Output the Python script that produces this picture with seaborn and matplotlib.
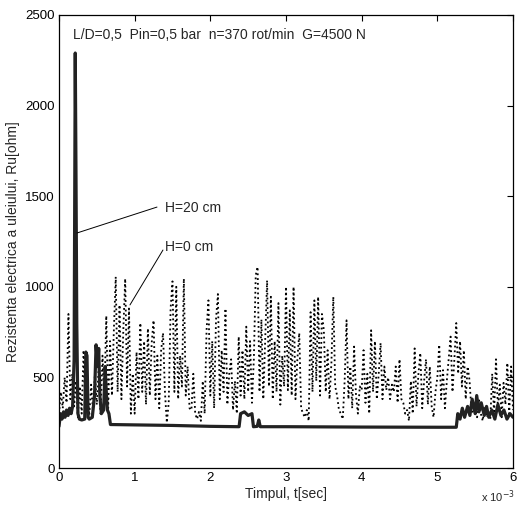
import numpy as np
import pandas as pd
import matplotlib
matplotlib.use("Agg")
import matplotlib.pyplot as plt
import seaborn as sns

# H=0 cm (dotted), sampled every 0.025 ms
t_h0 = np.arange(0, 241) * 0.025
r_h0 = [
    300, 420, 330, 500, 360, 850, 380, 520, 340, 480,
    280, 450, 300, 650, 320, 420, 290, 460, 310, 520,
    350, 560, 300, 620, 380, 840, 330, 700, 400, 760,
    1055, 420, 900, 380, 760, 1045, 450, 880, 300, 520,
    300, 640, 380, 800, 420, 700, 350, 770, 400, 690,
    815, 380, 620, 330, 650, 745, 420, 250, 360, 880,
    1030, 420, 1000, 380, 620, 450, 1045, 400, 560, 330,
    320, 520, 300, 270, 310, 260, 480, 300, 760, 925,
    400, 700, 330, 820, 960, 380, 650, 420, 880, 350,
    520, 600, 320, 480, 300, 725, 400, 650, 380, 780,
    420, 700, 360, 600, 1065, 1110, 420, 820, 380, 700,
    1035, 450, 945, 380, 700, 420, 910, 350, 620, 450,
    1000, 430, 870, 400, 1000, 380, 600, 745, 330, 300,
    280, 320, 260, 860, 420, 925, 480, 945, 400, 850,
    760, 420, 650, 380, 580, 945, 450, 400, 320, 300,
    270, 480, 815, 380, 560, 330, 670, 400, 300, 450,
    430, 650, 360, 520, 300, 760, 420, 700, 380, 520,
    690, 380, 560, 430, 500, 380, 460, 420, 560, 360,
    600, 380, 360, 300, 320, 260, 480, 300, 660, 340,
    520, 635, 330, 480, 600, 350, 560, 340, 280, 420,
    500, 680, 380, 540, 330, 480, 600, 725, 420, 600,
    800, 520, 700, 450, 650, 380, 560, 485, 320, 300,
    320, 280, 380, 300, 260, 340, 280, 300, 270, 520,
    300, 600, 330, 460, 280, 470, 350, 580, 300, 560,
    320,
]

# H=20 cm (solid)
t_h20 = [0.0, 0.02, 0.04, 0.06, 0.08, 0.10, 0.12, 0.14, 0.16, 0.18,
         0.20, 0.215, 0.225, 0.235, 0.25, 0.27, 0.30, 0.34, 0.355, 0.37,
         0.385, 0.40, 0.44, 0.47, 0.49, 0.51, 0.525, 0.54, 0.56, 0.59,
         0.61, 0.625, 0.64, 0.66, 0.68, 1.0, 1.5, 2.0, 2.38, 2.40,
         2.45, 2.50, 2.55, 2.57, 2.62, 2.64, 2.66, 3.0, 4.0, 5.0,
         5.25, 5.27, 5.30, 5.33, 5.36, 5.40, 5.43, 5.46, 5.50, 5.52,
         5.55, 5.58, 5.62, 5.65, 5.68, 5.72, 5.76, 5.80, 5.84, 5.88,
         5.92, 5.96, 6.0]
r_h20 = [230, 300, 270, 310, 280, 320, 290, 330, 300, 340,
         600, 2290, 1600, 800, 300, 270, 265, 270, 640, 620,
         280, 270, 280, 400, 680, 560, 660, 400, 300, 320,
         560, 420, 320, 300, 240, 238, 235, 230, 228, 300,
         310, 290, 300, 228, 230, 265, 228, 228, 226, 225,
         225, 300, 270, 330, 280, 340, 290, 380, 300, 400,
         310, 360, 290, 340, 280, 320, 270, 350, 290, 320,
         270, 300, 280]

x_ticks = [0, 1, 2, 3, 4, 5, 6]
y_ticks = [0, 500, 1000, 1500, 2000, 2500]

sns.set_theme(style="white")
plt.rcParams['font.family'] = ['Liberation Sans', 'DejaVu Sans']

fig = plt.figure(figsize=(5.17, 5.08), dpi=100)
ax = fig.add_axes([0.1141, 0.0787, 0.8782, 0.8918])

df0 = pd.DataFrame({"t": t_h0, "R": r_h0})
df20 = pd.DataFrame({"t": t_h20, "R": r_h20})
sns.lineplot(data=df0, x="t", y="R", ax=ax, color="black", lw=1.3,
             linestyle=":", estimator=None, sort=False)
sns.lineplot(data=df20, x="t", y="R", ax=ax, color="#222222", lw=2.3,
             estimator=None, sort=False)

ax.set_xlim(0, 6)
ax.set_ylim(0, 2500)
ax.set_xticks(x_ticks)
ax.set_yticks(y_ticks)
ax.tick_params(direction="in", top=True, right=True, length=4, width=0.8,
               labelsize=9.5, colors="black", pad=3)
for s in ax.spines.values():
    s.set_color("black")
    s.set_linewidth(0.9)

ax.set_xlabel("Timpul, t[sec]", fontsize=10, labelpad=2)
ax.set_ylabel("Rezistenta electrica a uleiului, Ru[ohm]", fontsize=10, labelpad=4)

ax.text(0.185, 2390, "L/D=0,5  Pin=0,5 bar  n=370 rot/min  G=4500 N",
        fontsize=10, va="center", ha="left")

ax.plot([0.238, 1.295], [1297, 1440], color="black", lw=0.7)
ax.text(1.40, 1435, "H=20 cm", fontsize=10, va="center", ha="left")
ax.plot([0.938, 1.374], [900, 1203], color="black", lw=0.7)
ax.text(1.40, 1220, "H=0 cm", fontsize=10, va="center", ha="left")

fig.text(0.996, 0.022, r"x 10$^{-3}$", fontsize=8, ha="right", va="center")

fig.savefig("out.png", dpi=100)
